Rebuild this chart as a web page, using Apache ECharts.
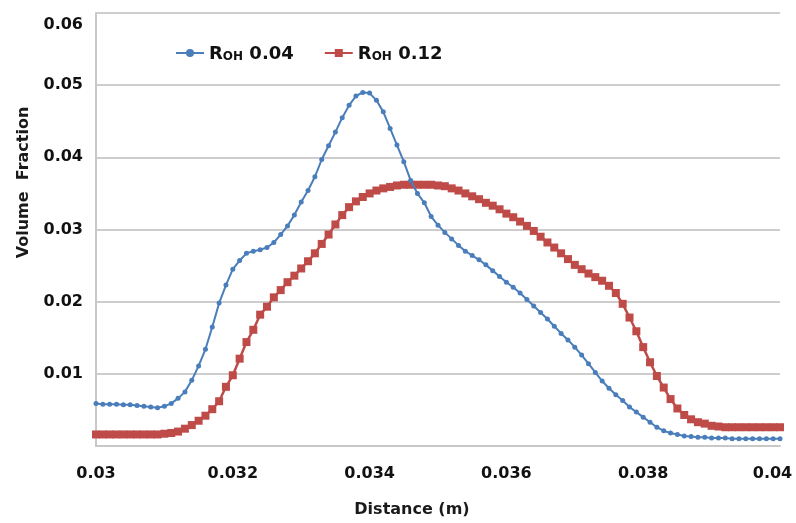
<!DOCTYPE html>
<html>
<head>
<meta charset="utf-8">
<script src="https://cdn.jsdelivr.net/npm/echarts@6/dist/echarts.min.js"></script>
<style>
html,body{margin:0;padding:0;background:#fff;}
#chart{width:796px;height:523px;}
</style>
</head>
<body>
<div id="chart"></div>
<script>
// Distance (m)
const distance = [
0.0300,0.0301,0.0302,0.0303,0.0304,0.0305,0.0306,0.0307,0.0308,0.0309,
0.0310,0.0311,0.0312,0.0313,0.0314,0.0315,0.0316,0.0317,0.0318,0.0319,
0.0320,0.0321,0.0322,0.0323,0.0324,0.0325,0.0326,0.0327,0.0328,0.0329,
0.0330,0.0331,0.0332,0.0333,0.0334,0.0335,0.0336,0.0337,0.0338,0.0339,
0.0340,0.0341,0.0342,0.0343,0.0344,0.0345,0.0346,0.0347,0.0348,0.0349,
0.0350,0.0351,0.0352,0.0353,0.0354,0.0355,0.0356,0.0357,0.0358,0.0359,
0.0360,0.0361,0.0362,0.0363,0.0364,0.0365,0.0366,0.0367,0.0368,0.0369,
0.0370,0.0371,0.0372,0.0373,0.0374,0.0375,0.0376,0.0377,0.0378,0.0379,
0.0380,0.0381,0.0382,0.0383,0.0384,0.0385,0.0386,0.0387,0.0388,0.0389,
0.0390,0.0391,0.0392,0.0393,0.0394,0.0395,0.0396,0.0397,0.0398,0.0399,
0.0400
];
// Volume fraction, R_OH 0.04
const roh004 = [
0.0059,0.0058,0.0058,0.0058,0.0057,0.0057,0.0056,0.0055,0.0054,0.0053,
0.0055,0.0059,0.0066,0.0075,0.0091,0.0111,0.0134,0.0165,0.0198,0.0223,
0.0245,0.0257,0.0267,0.0270,0.0272,0.0275,0.0282,0.0293,0.0305,0.0320,
0.0338,0.0354,0.0373,0.0397,0.0416,0.0435,0.0455,0.0472,0.0485,0.0490,
0.0489,0.0479,0.0463,0.0440,0.0417,0.0394,0.0368,0.0350,0.0337,0.0318,
0.0306,0.0296,0.0287,0.0278,0.0270,0.0264,0.0258,0.0251,0.0243,0.0235,
0.0227,0.0220,0.0212,0.0203,0.0194,0.0185,0.0176,0.0166,0.0156,0.0147,
0.0137,0.0126,0.0114,0.0102,0.0090,0.0080,0.0071,0.0063,0.0054,0.0047,
0.0040,0.0033,0.0026,0.0021,0.0018,0.0016,0.0014,0.0013,0.0012,0.0012,
0.0011,0.0011,0.0011,0.0010,0.0010,0.0010,0.0010,0.0010,0.0010,0.0010,
0.0010
];
// Volume fraction, R_OH 0.12
const roh012 = [
0.0016,0.0016,0.0016,0.0016,0.0016,0.0016,0.0016,0.0016,0.0016,0.0016,
0.0017,0.0018,0.0020,0.0024,0.0029,0.0035,0.0042,0.0051,0.0062,0.0082,
0.0098,0.0121,0.0144,0.0161,0.0182,0.0193,0.0206,0.0216,0.0227,0.0236,
0.0246,0.0256,0.0267,0.0280,0.0293,0.0307,0.0320,0.0331,0.0339,0.0345,
0.0350,0.0354,0.0357,0.0359,0.0361,0.0362,0.0362,0.0362,0.0362,0.0362,
0.0361,0.0360,0.0357,0.0354,0.0350,0.0346,0.0342,0.0337,0.0333,0.0328,
0.0322,0.0317,0.0311,0.0305,0.0298,0.0290,0.0282,0.0275,0.0267,0.0259,
0.0251,0.0245,0.0239,0.0234,0.0229,0.0222,0.0212,0.0197,0.0178,0.0159,
0.0137,0.0116,0.0097,0.0081,0.0065,0.0052,0.0043,0.0037,0.0033,0.0031,
0.0028,0.0027,0.0026,0.0026,0.0026,0.0026,0.0026,0.0026,0.0026,0.0026,
0.0026
];
const seriesNames = ['ROH 0.04', 'ROH 0.12'];
const legendParts = [['R', 'OH', ' 0.04'], ['R', 'OH', ' 0.12']];
const xTickLabels = ['0.03', '0.032', '0.034', '0.036', '0.038', '0.04'];
const yTickLabels = ['', '0.01', '0.02', '0.03', '0.04', '0.05', '0.06'];
const xTitle = 'Distance (m)';
const yTitle = 'Volume  Fraction';

const FONT = 'DejaVu Sans';
const chart = echarts.init(document.getElementById('chart'), null, {renderer: 'canvas'});

function pairs(xs, ys) { return xs.map((x, i) => [x, ys[i]]); }

const labelBase = {fontFamily: FONT, fontWeight: 'bold', fontSize: 16, color: '#111'};

const option = {
  backgroundColor: '#ffffff',
  animation: false,
  grid: {left: 96, right: 16, top: 13, bottom: 71},
  legend: {
    left: 175, top: 45, padding: 0,
    itemWidth: 28, itemHeight: 10, itemGap: 30,
    data: seriesNames,
    formatter: function (name) {
      const p = legendParts[seriesNames.indexOf(name)];
      return '{r|' + p[0] + '}{s|' + p[1] + '}{n|' + p[2] + '}';
    },
    textStyle: {
      rich: {
        r: {fontFamily: FONT, fontWeight: 'bold', fontSize: 18, color: '#111', verticalAlign: 'bottom', lineHeight: 20},
        s: {fontFamily: FONT, fontWeight: 'bold', fontSize: 12, color: '#111', verticalAlign: 'bottom', lineHeight: 20},
        n: {fontFamily: FONT, fontWeight: 'bold', fontSize: 18, color: '#111', verticalAlign: 'bottom', lineHeight: 20}
      }
    }
  },
  xAxis: {
    type: 'value',
    min: 0.03, max: 0.04, interval: 0.002,
    name: xTitle,
    nameLocation: 'middle',
    nameGap: 56,
    nameTextStyle: {fontFamily: FONT, fontWeight: 'bold', fontSize: 16, color: '#1a1a1a', padding: [0, 52, 0, 0]},
    axisLine: {show: true, lineStyle: {color: '#c8c8c8', width: 2}},
    axisTick: {show: false},
    splitLine: {show: false},
    axisLabel: Object.assign({}, labelBase, {
      margin: 20,
      formatter: function (v) {
        const idx = Math.round((v - 0.03) / 0.002);
        const t = xTickLabels[idx];
        if (t === undefined) return '';
        return idx === xTickLabels.length - 1 ? '{e|' + t + '}' : t;
      },
      rich: {e: Object.assign({}, labelBase, {padding: [0, 15, 0, 0]})}
    })
  },
  yAxis: {
    type: 'value',
    min: 0, max: 0.06, interval: 0.01,
    name: yTitle,
    nameLocation: 'middle',
    nameRotate: 90,
    nameGap: 64,
    nameTextStyle: {fontFamily: FONT, fontWeight: 'bold', fontSize: 16, color: '#1a1a1a', padding: [0, 0, 0, 94]},
    axisLine: {show: true, lineStyle: {color: '#c8c8c8', width: 2}},
    axisTick: {show: false},
    splitLine: {show: true, lineStyle: {color: '#cdcdcd', width: 2}},
    axisLabel: Object.assign({}, labelBase, {
      margin: 13,
      formatter: function (v) {
        const idx = Math.round(v / 0.01);
        const t = yTickLabels[idx];
        if (t === undefined) return '';
        return idx === yTickLabels.length - 1 ? '{t|' + t + '}' : t;
      },
      rich: {t: Object.assign({}, labelBase, {padding: [24, 0, 0, 0]})}
    })
  },
  series: [
    {
      name: seriesNames[0],
      type: 'line',
      data: pairs(distance, roh004),
      symbol: 'circle',
      symbolSize: 5,
      lineStyle: {color: '#4a7ebb', width: 2},
      itemStyle: {color: '#4a7ebb'},
      z: 3
    },
    {
      name: seriesNames[1],
      type: 'line',
      data: pairs(distance, roh012),
      symbol: 'rect',
      symbolSize: 8,
      lineStyle: {color: '#be4b48', width: 2.5},
      itemStyle: {color: '#be4b48'},
      z: 2
    }
  ]
};
chart.setOption(option);
</script>
</body>
</html>
